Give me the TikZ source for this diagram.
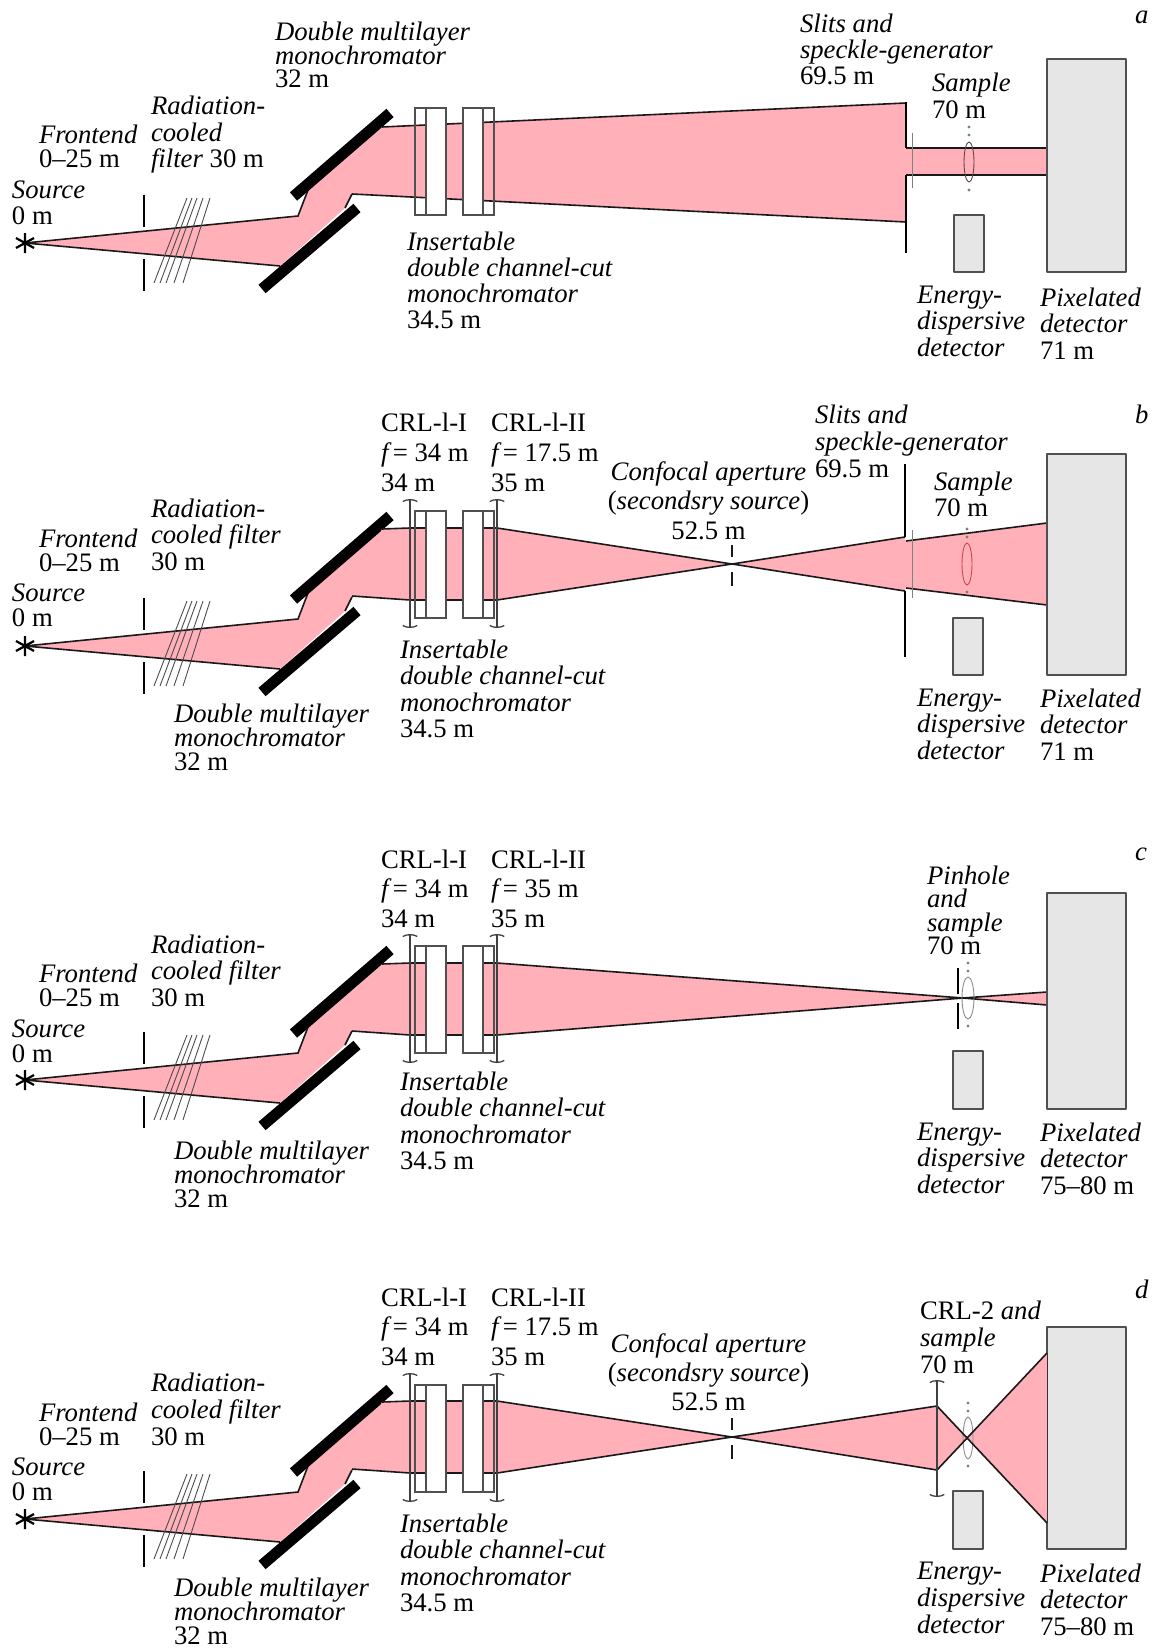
\documentclass[tikz,border=0pt]{standalone}
\usepackage{fontspec}
\setmainfont{Liberation Serif}
\usetikzlibrary{arrows.meta}
\definecolor{beam}{HTML}{FFB0B8}
\definecolor{det}{HTML}{E6E6E6}
\definecolor{edgeg}{HTML}{505050}
\newcommand{\Ln}[1]{\hbox{#1}}
\newcommand{\Lc}[1]{\hbox to 400pt{\hfil #1\hfil}}
\newcommand{\Tx}[4]{\node[lbl] at (#1,#2) {\vtop{\baselineskip=#3pt\lineskiplimit=-100pt #4}};}
\newcommand{\TxC}[4]{\node[lblc] at (#1,#2) {\vtop{\baselineskip=#3pt\lineskiplimit=-100pt #4}};}
\newcommand{\Ii}[1]{\textit{#1}}
% common front part of a beamline: #1 = vertical offset
\newcommand{\FrontBeam}[1]{%
  \begin{scope}[shift={(0,#1)}]
    \fill[beam] (25,243) -- (298,216) -- (308,190) -- (382,127) -- (425,125) -- (425,196) -- (352,194) -- (345,208) -- (280,266) -- cycle;
    \draw[bedge] (25,243) -- (298,216) -- (308,190);
    \draw[bedge] (25,243) -- (280,266);
    \draw[bedge] (345,208) -- (352,194);
    \foreach \ta/\tb in {187/154,192/160,197/166,203/174,210/183}
      \draw[filt] (\ta,198) -- (\tb,283);
    \draw[slitf] (144,195) -- (144,227);
    \draw[slitf] (144,259) -- (144,291);
    \draw[mirror] (293.5,196.5) -- (390,113);
    \draw[mirror] (262,289) -- (357,208);
    \draw[line width=2.2pt] (25,233) -- (25,253) (16,238) -- (34,248) (16,248) -- (34,238);
  \end{scope}}
\newcommand{\LensBeam}[1]{%
  \begin{scope}[shift={(0,#1)}]
    \fill[beam] (382,127) -- (410,126) -- (497,126) -- (497,198) -- (410,198) -- (352,194) -- cycle;
    \draw[bedge] (382,127) -- (410,126) -- (497,126);
    \draw[bedge] (352,194) -- (410,198) -- (497,198);
  \end{scope}}
\newcommand{\Boxes}[1]{%
  \begin{scope}[shift={(0,#1)}]
    \draw[boxl] (415,108) rectangle (426,215);
    \draw[boxl] (483,108) rectangle (494,215);
    \draw[boxl,fill=white] (426,108) rectangle (446,215);
    \draw[boxl,fill=white] (463,108) rectangle (483,215);
  \end{scope}}
\newcommand{\Lenses}[1]{%
  \begin{scope}[shift={(0,#1)}]
    \draw[lens] (410,96) -- (410,225);
    \draw[lens] (497,96) -- (497,225);
  \end{scope}}
\newcommand{\Detectors}[4]{% left x, top of pixel, top of energy, bottom
  \draw[detl] (1047,#2) rectangle (1126,#4);
  \draw[detl] (#1,#3) rectangle (#1+30,#4);}
\newcommand{\Dots}[2]{% x, centre y
  \fill[gray] (#1,#2-35) circle (1.7) (#1,#2-27) circle (1.7) (#1,#2+28) circle (1.7);}
\begin{document}
\begin{tikzpicture}[x=1pt,y=-1pt,
  every node/.style={inner sep=0pt,outer sep=0pt,font=\fontsize{26.7}{26.7}\selectfont},
  lbl/.style={anchor=base west},
  lblc/.style={anchor=base},
  bedge/.style={line width=1.6pt,black!90},
  filt/.style={line width=0.9pt,black!70},
  slit/.style={line width=2.9pt,black},
  slitf/.style={line width=2.5pt,black},
  mirror/.style={line width=11pt,black},
  boxl/.style={line width=1.1pt,edgeg},
  lens/.style={line width=1.3pt,black!75,{Arc Barb[arc=110,length=5pt,width=19pt]}-{Arc Barb[arc=110,length=5pt,width=19pt]}},
  detl/.style={line width=1.5pt,edgeg,fill=det,line join=round},
  thinl/.style={line width=0.7pt,black!50},
  ell/.style={line width=0.9pt}]
\useasboundingbox (0,0) rectangle (1157,1648);

% ---------- panel a
\FrontBeam{0}
\fill[beam] (382,127) -- (906,103) -- (906,222) -- (352,194) -- cycle;
\draw[bedge] (382,127) -- (906,103);
\draw[bedge] (352,194) -- (906,222);
\fill[beam] (905,148) rectangle (1048,175);
\draw[bedge] (906,148) -- (1048,148);
\draw[bedge] (906,175) -- (1048,175);
\draw[slit] (906,102) -- (906,148);
\draw[slit] (906,175) -- (906,253);
\draw[thinl] (912,133) -- (912,188);
\Boxes{0}
\Detectors{954}{59}{215}{272}
\draw[ell,black!45!beam!70!black] (969,162) ellipse (5 and 20);
\Dots{969}{162}
\Tx{275}{41}{23.5}{\Ln{\Ii{Double multilayer}}\Ln{\Ii{monochromator}}\Ln{32 m}}
\Tx{800}{32.5}{26}{\Ln{\Ii{Slits and}}\Ln{\Ii{speckle-generator}}\Ln{69.5 m}}
\Tx{932}{92}{27}{\Ln{\Ii{Sample}}\Ln{70 m}}
\Tx{151}{115}{26.5}{\Ln{\Ii{Radiation-}}\Ln{\Ii{cooled}}\Ln{\Ii{filter} 30 m}}
\Tx{39}{144}{24}{\Ln{\Ii{Frontend}}\Ln{0--25 m}}
\Tx{12}{199}{25}{\Ln{\Ii{Source}}\Ln{0 m}}
\Tx{407}{250}{26.3}{\Ln{\Ii{Insertable}}\Ln{\Ii{double channel-cut}}\Ln{\Ii{monochromator}}\Ln{34.5 m}}
\Tx{917}{303}{26.5}{\Ln{\Ii{Energy-}}\Ln{\Ii{dispersive}}\Ln{\Ii{detector}}}
\Tx{1040}{306}{26.5}{\Ln{\Ii{Pixelated}}\Ln{\Ii{detector}}\Ln{71 m}}
\node (la) [lbl] at (1135,24) {\Ii{a}};

% ---------- panel b
\FrontBeam{403}
\LensBeam{402}
\fill[beam] (497,528) -- (732,564) -- (497,600) -- cycle;
\draw[bedge] (497,528) -- (732,564) -- (497,600);
\fill[beam] (732,564) -- (905,537) -- (905,591) -- cycle;
\draw[bedge] (732,564) -- (905,537);
\draw[bedge] (732,564) -- (905,591);
\fill[beam] (905,541) -- (1047,523) -- (1047,605) -- (905,588) -- cycle;
\draw[bedge] (906,541) -- (1047,523);
\draw[bedge] (906,588) -- (1047,605);
\draw[slit] (905,464) -- (905,537);
\draw[slit] (905,591) -- (905,657);
\draw[thinl] (912,530) -- (912,598);
\draw[line width=2pt,black!90] (732,545) -- (732,557) (732,572) -- (732,586);
\Boxes{403}
\Lenses{403}
\Detectors{953}{454}{618}{675}
\draw[ell,black!30!red!60!beam] (967,564) ellipse (5 and 21);
\Dots{967}{564}
\Tx{381}{431}{30}{\Ln{CRL-l-I}\Ln{\Ii{f\,}= 34 m}\Ln{34 m}}
\Tx{491}{431}{30}{\Ln{CRL-l-II}\Ln{\Ii{f\,}= 17.5 m}\Ln{35 m}}
\TxC{708.5}{480}{29.5}{\Lc{\Ii{Confocal aperture}}\Lc{(\Ii{secondsry source})}\Lc{52.5 m}}
\Tx{815}{423}{27}{\Ln{\Ii{Slits and}}\Ln{\Ii{speckle-generator}}\Ln{69.5 m}}
\Tx{934}{490}{26}{\Ln{\Ii{Sample}}\Ln{70 m}}
\Tx{151}{517}{26.5}{\Ln{\Ii{Radiation-}}\Ln{\Ii{cooled filter}}\Ln{30 m}}
\Tx{39}{547.5}{23.5}{\Ln{\Ii{Frontend}}\Ln{0--25 m}}
\Tx{12}{601}{25}{\Ln{\Ii{Source}}\Ln{0 m}}
\Tx{400}{658}{26.5}{\Ln{\Ii{Insertable}}\Ln{\Ii{double channel-cut}}\Ln{\Ii{monochromator}}\Ln{34.5 m}}
\Tx{174}{722}{24}{\Ln{\Ii{Double multilayer}}\Ln{\Ii{monochromator}}\Ln{32 m}}
\Tx{917}{706}{26.5}{\Ln{\Ii{Energy-}}\Ln{\Ii{dispersive}}\Ln{\Ii{detector}}}
\Tx{1040}{707}{26.5}{\Ln{\Ii{Pixelated}}\Ln{\Ii{detector}}\Ln{71 m}}
\node (lb) [lbl] at (1135,423) {\Ii{b}};

% ---------- panel c
\FrontBeam{837}
\LensBeam{837}
\fill[beam] (497,963) -- (963,998) -- (497,1035) -- cycle;
\draw[bedge] (497,963) -- (963,998) -- (497,1035);
\fill[beam] (963,998) -- (1047,992) -- (1047,1005) -- cycle;
\draw[bedge] (963,998) -- (1047,992);
\draw[bedge] (963,998) -- (1047,1005);
\draw[slit] (958,968) -- (958,994);
\draw[slit] (958,1003) -- (958,1029);
\Boxes{838}
\Lenses{838}
\Detectors{953}{893}{1051}{1109}
\draw[ell,black!45] (968,998) ellipse (6 and 21);
\Dots{968}{998}
\Tx{381}{868}{29.5}{\Ln{CRL-l-I}\Ln{\Ii{f\,}= 34 m}\Ln{34 m}}
\Tx{491}{868}{29.5}{\Ln{CRL-l-II}\Ln{\Ii{f\,}= 35 m}\Ln{35 m}}
\Tx{927}{884}{23.5}{\Ln{\Ii{Pinhole}}\Ln{\Ii{and}}\Ln{\Ii{sample}}\Ln{70 m}}
\Tx{151}{953}{26.5}{\Ln{\Ii{Radiation-}}\Ln{\Ii{cooled filter}}\Ln{30 m}}
\Tx{39}{982}{24}{\Ln{\Ii{Frontend}}\Ln{0--25 m}}
\Tx{12}{1037}{25}{\Ln{\Ii{Source}}\Ln{0 m}}
\Tx{400}{1090}{26.5}{\Ln{\Ii{Insertable}}\Ln{\Ii{double channel-cut}}\Ln{\Ii{monochromator}}\Ln{34.5 m}}
\Tx{174}{1159}{24}{\Ln{\Ii{Double multilayer}}\Ln{\Ii{monochromator}}\Ln{32 m}}
\Tx{917}{1140}{26.5}{\Ln{\Ii{Energy-}}\Ln{\Ii{dispersive}}\Ln{\Ii{detector}}}
\Tx{1040}{1141}{26.5}{\Ln{\Ii{Pixelated}}\Ln{\Ii{detector}}\Ln{75--80 m}}
\node (lc) [lbl] at (1135,860) {\Ii{c}};

% ---------- panel d
\FrontBeam{1276}
\LensBeam{1275}
\fill[beam] (497,1401) -- (732,1437) -- (497,1473) -- cycle;
\draw[bedge] (497,1401) -- (732,1437) -- (497,1473);
\fill[beam] (732,1437) -- (937,1406) -- (937,1470) -- cycle;
\draw[bedge] (732,1437) -- (937,1406);
\draw[bedge] (732,1437) -- (937,1470);
\draw[line width=2pt,black!90] (732,1418) -- (732,1430) (732,1445) -- (732,1459);
\Boxes{1277}
\Lenses{1277}
\Detectors{953}{1327}{1491}{1549}
\fill[beam] (937,1406) -- (968,1438) -- (937,1470) -- cycle;
\fill[beam] (968,1438) -- (1047,1353) -- (1047,1523) -- cycle;
\draw[ell,black!45] (968,1438) ellipse (5 and 21);
\draw[bedge] (937,1406) -- (1047,1523);
\draw[bedge] (937,1470) -- (1047,1353);
\draw[lens] (937,1380) -- (937,1497);
\draw[line width=1pt,black!80] (1047,1353) -- (1047,1523);
\Dots{968}{1438}
\Tx{381}{1306}{29.5}{\Ln{CRL-l-I}\Ln{\Ii{f\,}= 34 m}\Ln{34 m}}
\Tx{491}{1306}{29.5}{\Ln{CRL-l-II}\Ln{\Ii{f\,}= 17.5 m}\Ln{35 m}}
\TxC{708.5}{1352}{29}{\Lc{\Ii{Confocal aperture}}\Lc{(\Ii{secondsry source})}\Lc{52.5 m}}
\Tx{920}{1319}{27}{\Ln{CRL-2 \Ii{and}}\Ln{\Ii{sample}}\Ln{70 m}}
\Tx{151}{1391}{27}{\Ln{\Ii{Radiation-}}\Ln{\Ii{cooled filter}}\Ln{30 m}}
\Tx{39}{1421}{24}{\Ln{\Ii{Frontend}}\Ln{0--25 m}}
\Tx{12}{1475}{25}{\Ln{\Ii{Source}}\Ln{0 m}}
\Tx{400}{1532}{26.5}{\Ln{\Ii{Insertable}}\Ln{\Ii{double channel-cut}}\Ln{\Ii{monochromator}}\Ln{34.5 m}}
\Tx{174}{1596}{24}{\Ln{\Ii{Double multilayer}}\Ln{\Ii{monochromator}}\Ln{32 m}}
\Tx{917}{1579}{27}{\Ln{\Ii{Energy-}}\Ln{\Ii{dispersive}}\Ln{\Ii{detector}}}
\Tx{1040}{1582}{26.5}{\Ln{\Ii{Pixelated}}\Ln{\Ii{detector}}\Ln{75--80 m}}
\node (ld) [lbl] at (1135,1298) {\Ii{d}};
\end{tikzpicture}
\end{document}
